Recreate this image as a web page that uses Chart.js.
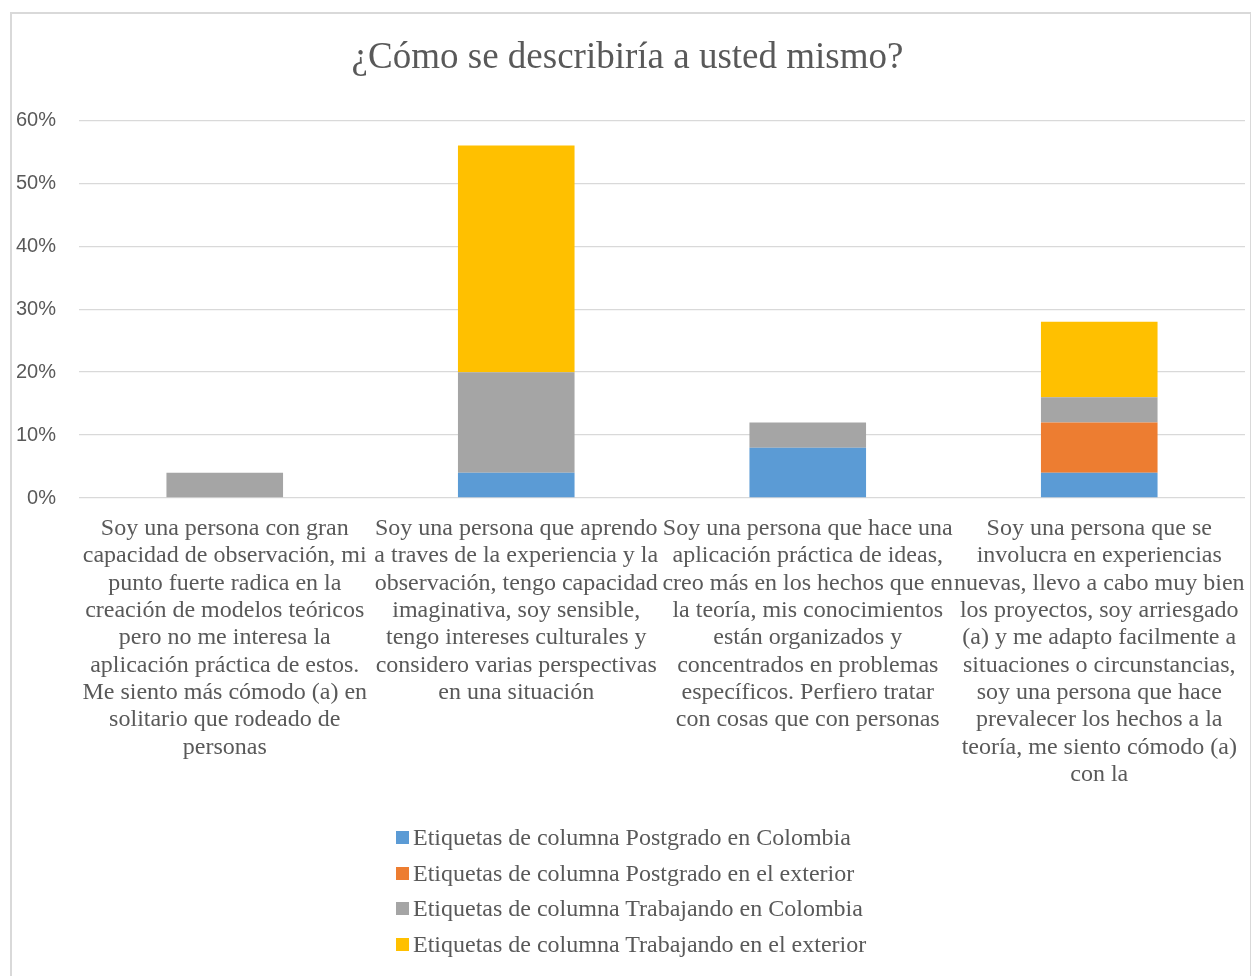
<!DOCTYPE html>
<html>
<head>
<meta charset="utf-8">
<script src="https://cdn.jsdelivr.net/npm/chart.js@4/dist/chart.umd.min.js"></script>
<style>
  html, body { margin: 0; padding: 0; background: #fff; }
  #wrap { position: relative; width: 1251px; height: 976px; overflow: hidden; }
  #frame { position: absolute; left: 10px; top: 12px; width: 1238px; height: 1000px;
           border: 2px solid #d9d9d9; pointer-events: none; }
  #chart { position: absolute; left: 0; top: 0; }
  #legend { position: absolute; left: 396px; top: 820px; font-family: "Liberation Serif", "Times New Roman", serif;
            font-size: 24px; color: #595959; }
  #legend .row { height: 35.5px; display: flex; align-items: center; white-space: nowrap; }
  #legend .box { width: 13px; height: 13px; margin-right: 4px; flex: none; }
</style>
</head>
<body>
<div id="wrap">
  <canvas id="chart" width="1251" height="976"></canvas>
  <div id="frame"></div>
  <div id="legend"></div>
</div>
<script>
// categories (already wrapped the way they appear under the axis)
const categories = [
    ['Soy una persona con gran', 'capacidad de observación, mi', 'punto fuerte radica en la',
     'creación de modelos teóricos', 'pero no me interesa la', 'aplicación práctica de estos.',
     'Me siento más cómodo (a) en', 'solitario que rodeado de', 'personas'],
    ['Soy una persona que aprendo', 'a traves de la experiencia y la', 'observación, tengo capacidad',
     'imaginativa, soy sensible,', 'tengo intereses culturales y', 'considero varias perspectivas',
     'en una situación'],
    ['Soy una persona que hace una', 'aplicación práctica de ideas,', 'creo más en los hechos que en',
     'la teoría, mis conocimientos', 'están organizados y', 'concentrados en problemas',
     'específicos. Perfiero tratar', 'con cosas que con personas'],
    ['Soy una persona que se', 'involucra en experiencias', 'nuevas, llevo a cabo muy bien',
     'los proyectos, soy arriesgado', '(a) y me adapto facilmente a', 'situaciones o circunstancias,',
     'soy una persona que hace', 'prevalecer los hechos a la', 'teoría, me siento cómodo (a)',
     'con la']
];

const seriesNames = [
    'Etiquetas de columna Postgrado en Colombia',
    'Etiquetas de columna Postgrado en el exterior',
    'Etiquetas de columna Trabajando en Colombia',
    'Etiquetas de columna Trabajando en el exterior'
];

// percentages
const postgradoColombia = [0, 4, 8, 4];
const postgradoExterior = [0, 0, 0, 8];
const trabajandoColombia = [4, 16, 4, 4];
const trabajandoExterior = [0, 36, 0, 12];

const yTicks = [0, 10, 20, 30, 40, 50, 60];

const seriesColors = ['#5b9bd5', '#ed7d31', '#a5a5a5', '#ffc000'];
const seriesValues = [postgradoColombia, postgradoExterior, trabajandoColombia, trabajandoExterior];

const textColor = '#595959';
const serif = '"Liberation Serif", "Times New Roman", serif';

const datasets = seriesNames.map((name, i) => ({
    label: name,
    data: seriesValues[i],
    backgroundColor: seriesColors[i],
    borderWidth: 0,
    categoryPercentage: 1,
    barPercentage: 0.4
}));

const chart = new Chart(document.getElementById('chart').getContext('2d'), {
    type: 'bar',
    data: { labels: categories, datasets: datasets },
    options: {
        responsive: false,
        animation: false,
        layout: { padding: { left: 10, right: 6, top: 0, bottom: 0 } },
        plugins: {
            legend: { display: false },
            tooltip: { enabled: false },
            title: {
                display: true,
                text: '¿Cómo se describiría a usted mismo?',
                color: textColor,
                font: { family: serif, size: 37, weight: 'normal', lineHeight: 1.2 },
                padding: { top: 36, bottom: 40 }
            }
        },
        scales: {
            x: {
                stacked: true,
                grid: { display: false, drawTicks: false },
                border: { display: false },
                ticks: {
                    color: textColor,
                    font: { family: serif, size: 24, lineHeight: 1.14 },
                    maxRotation: 0,
                    minRotation: 0,
                    autoSkip: false,
                    padding: 17
                },
                afterFit: scale => {
                    scale.paddingLeft = 0;
                    scale.paddingRight = 0;
                    scale.height = 478;
                }
            },
            y: {
                stacked: true,
                min: 0,
                max: 60,
                afterBuildTicks: scale => {
                    scale.ticks = yTicks.map(v => ({ value: v }));
                },
                grid: { color: '#d9d9d9', lineWidth: 1.3, drawTicks: false },
                border: { display: false },
                ticks: {
                    color: textColor,
                    font: { family: '"Liberation Sans", Arial, sans-serif', size: 20 },
                    padding: 23,
                    callback: v => v + '%'
                },
                afterFit: scale => {
                    scale.width = 69;
                }
            }
        }
    }
});

// legend, listed vertically below the axis labels
const legendEl = document.getElementById('legend');
chart.data.datasets.forEach(ds => {
    const row = document.createElement('div');
    row.className = 'row';
    const box = document.createElement('span');
    box.className = 'box';
    box.style.background = ds.backgroundColor;
    const txt = document.createElement('span');
    txt.textContent = ds.label;
    row.appendChild(box);
    row.appendChild(txt);
    legendEl.appendChild(row);
});
</script>
</body>
</html>
